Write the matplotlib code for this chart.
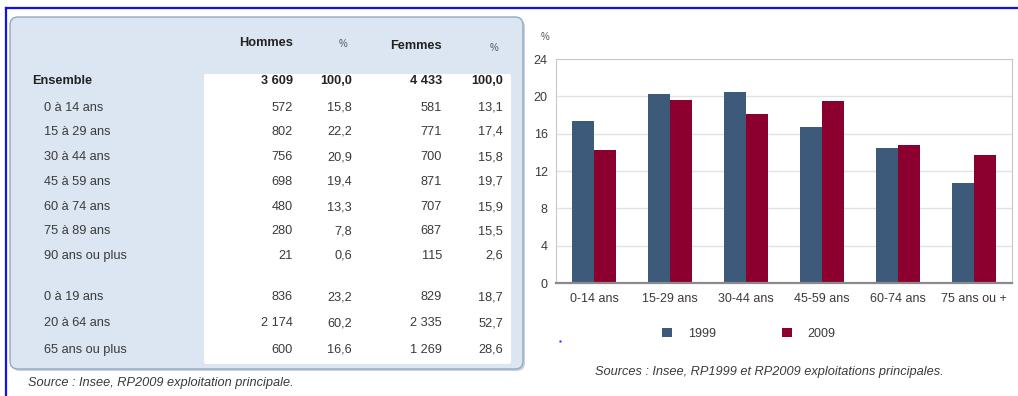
import matplotlib
matplotlib.use("Agg")
import matplotlib.pyplot as plt
from matplotlib.patches import FancyBboxPatch, Rectangle
from matplotlib.lines import Line2D

plt.rcParams['font.family'] = ['Liberation Sans', 'DejaVu Sans']

# ---- table data ----
row_labels = ["0 à 14 ans", "15 à 29 ans", "30 à 44 ans", "45 à 59 ans", "60 à 74 ans",
              "75 à 89 ans", "90 ans ou plus", "0 à 19 ans", "20 à 64 ans", "65 ans ou plus"]
hommes = ["572", "802", "756", "698", "480", "280", "21", "836", "2 174", "600"]
pct_hommes = ["15,8", "22,2", "20,9", "19,4", "13,3", "7,8", "0,6", "23,2", "60,2", "16,6"]
femmes = ["581", "771", "700", "871", "707", "687", "115", "829", "2 335", "1 269"]
pct_femmes = ["13,1", "17,4", "15,8", "19,7", "15,9", "15,5", "2,6", "18,7", "52,7", "28,6"]
total_label = "Ensemble"
total_values = ["3 609", "100,0", "4 433", "100,0"]
col_headers = ["Hommes", "%", "Femmes", "%"]

# ---- chart data ----
age_groups = ["0-14 ans", "15-29 ans", "30-44 ans", "45-59 ans", "60-74 ans", "75 ans ou +"]
v1999 = [17.4, 20.3, 20.5, 16.7, 14.5, 10.7]
v2009 = [14.3, 19.6, 18.1, 19.5, 14.8, 13.7]
series_labels = ["1999", "2009"]
yticks = [0, 4, 8, 12, 16, 20, 24]

W, H = 1018, 396
fig = plt.figure(figsize=(W / 100, H / 100), dpi=100)

# overlay axes in pixel coordinates
bg = fig.add_axes([0, 0, 1, 1], zorder=0)
bg.set_xlim(0, W)
bg.set_ylim(H, 0)
bg.axis('off')

# blue frame lines
bg.add_line(Line2D([6, 6], [8, H], color='#1010f0', lw=1.6))
bg.add_line(Line2D([6, W], [8, 8], color='#1010f0', lw=1.6))

# shadow + table box
bg.add_patch(FancyBboxPatch((12, 19), 513, 352, boxstyle="round,pad=0,rounding_size=8",
                            facecolor='#c9d3dd', edgecolor='none'))
bg.add_patch(FancyBboxPatch((10, 17), 513, 352, boxstyle="round,pad=0,rounding_size=8",
                            facecolor='#dce6f2', edgecolor='#93a9c2', lw=1.0))
bg.add_patch(FancyBboxPatch((204, 74), 307, 290, boxstyle="round,pad=0,rounding_size=2",
                            facecolor='white', edgecolor='none'))

fs = 9.2
txt = '#3a3a3a'
col_x = [293, 352, 442, 503]
hdr_y = [43, 44, 46, 48]
for i, (h, x, y) in enumerate(zip(col_headers, col_x, hdr_y)):
    if h == "%":
        bg.text(x - 5, y, h, ha='right', va='center', fontsize=7, color='#555555')
    else:
        bg.text(x, y, h, ha='right', va='center', fontsize=fs, fontweight='bold', color='#222222')

bg.text(32, 81, total_label, ha='left', va='center', fontsize=fs, fontweight='bold', color='#222222')
for x, v in zip(col_x, total_values):
    bg.text(x, 81, v, ha='right', va='center', fontsize=fs, fontweight='bold', color='#222222')

row_y = [108, 132, 157, 182, 207, 231, 256, 297, 323, 350]
for lab, a, b, c, d, y in zip(row_labels, hommes, pct_hommes, femmes, pct_femmes, row_y):
    bg.text(44, y, lab, ha='left', va='center', fontsize=fs, color=txt)
    for x, v in zip(col_x, [a, b, c, d]):
        bg.text(x, y, v, ha='right', va='center', fontsize=fs, color=txt)

bg.text(28, 383, "Source : Insee, RP2009 exploitation principale.", ha='left', va='center',
        fontsize=fs, style='italic', color=txt)

# stray blue dot
bg.plot([560], [341], marker='s', ms=1.5, color='#2020ff', mec='none')

# ---- bar chart ----
c1999 = '#3d5a7b'
c2009 = '#8c0030'
ax = fig.add_axes([556 / W, 1 - 283 / H, 456 / W, 224 / H], zorder=1)
xs = list(range(len(age_groups)))
bw = 0.293
b1 = ax.bar([x - bw / 2 for x in xs], v1999, width=bw, color=c1999, label=series_labels[0], zorder=2)
b2 = ax.bar([x + bw / 2 for x in xs], v2009, width=bw, color=c2009, label=series_labels[1], zorder=2)
ax.set_xlim(-0.5, len(age_groups) - 0.5)
ax.set_ylim(0, 24)
ax.set_yticks(yticks)
ax.set_yticklabels([str(t) for t in yticks])
ax.set_xticks(xs)
ax.set_xticklabels(age_groups)
ax.tick_params(axis='both', length=0, labelsize=9, colors=txt)
ax.tick_params(axis='y', pad=6)
ax.tick_params(axis='x', pad=7)
ax.grid(axis='y', color='#e2e2e2', lw=1, zorder=0)
ax.set_axisbelow(True)
for s in ['left', 'top', 'right']:
    ax.spines[s].set_color('#c8c8c8')
    ax.spines[s].set_linewidth(0.8)
ax.spines['bottom'].set_color('#8a8a8a')
ax.spines['bottom'].set_linewidth(1.6)

bg.text(545, 37, "%", ha='center', va='center', fontsize=7, color='#555555')

fig.legend(handles=[b1, b2], labels=series_labels, loc='center',
           bbox_to_anchor=(749 / W, 1 - 334 / H), ncol=2, frameon=False,
           fontsize=9, handlelength=0.75, handleheight=0.75, handletextpad=1.3,
           columnspacing=5.3, labelcolor=txt)

bg.text(769, 372, "Sources : Insee, RP1999 et RP2009 exploitations principales.", ha='center',
        va='center', fontsize=fs, style='italic', color=txt)

fig.savefig("out.png", dpi=100)
